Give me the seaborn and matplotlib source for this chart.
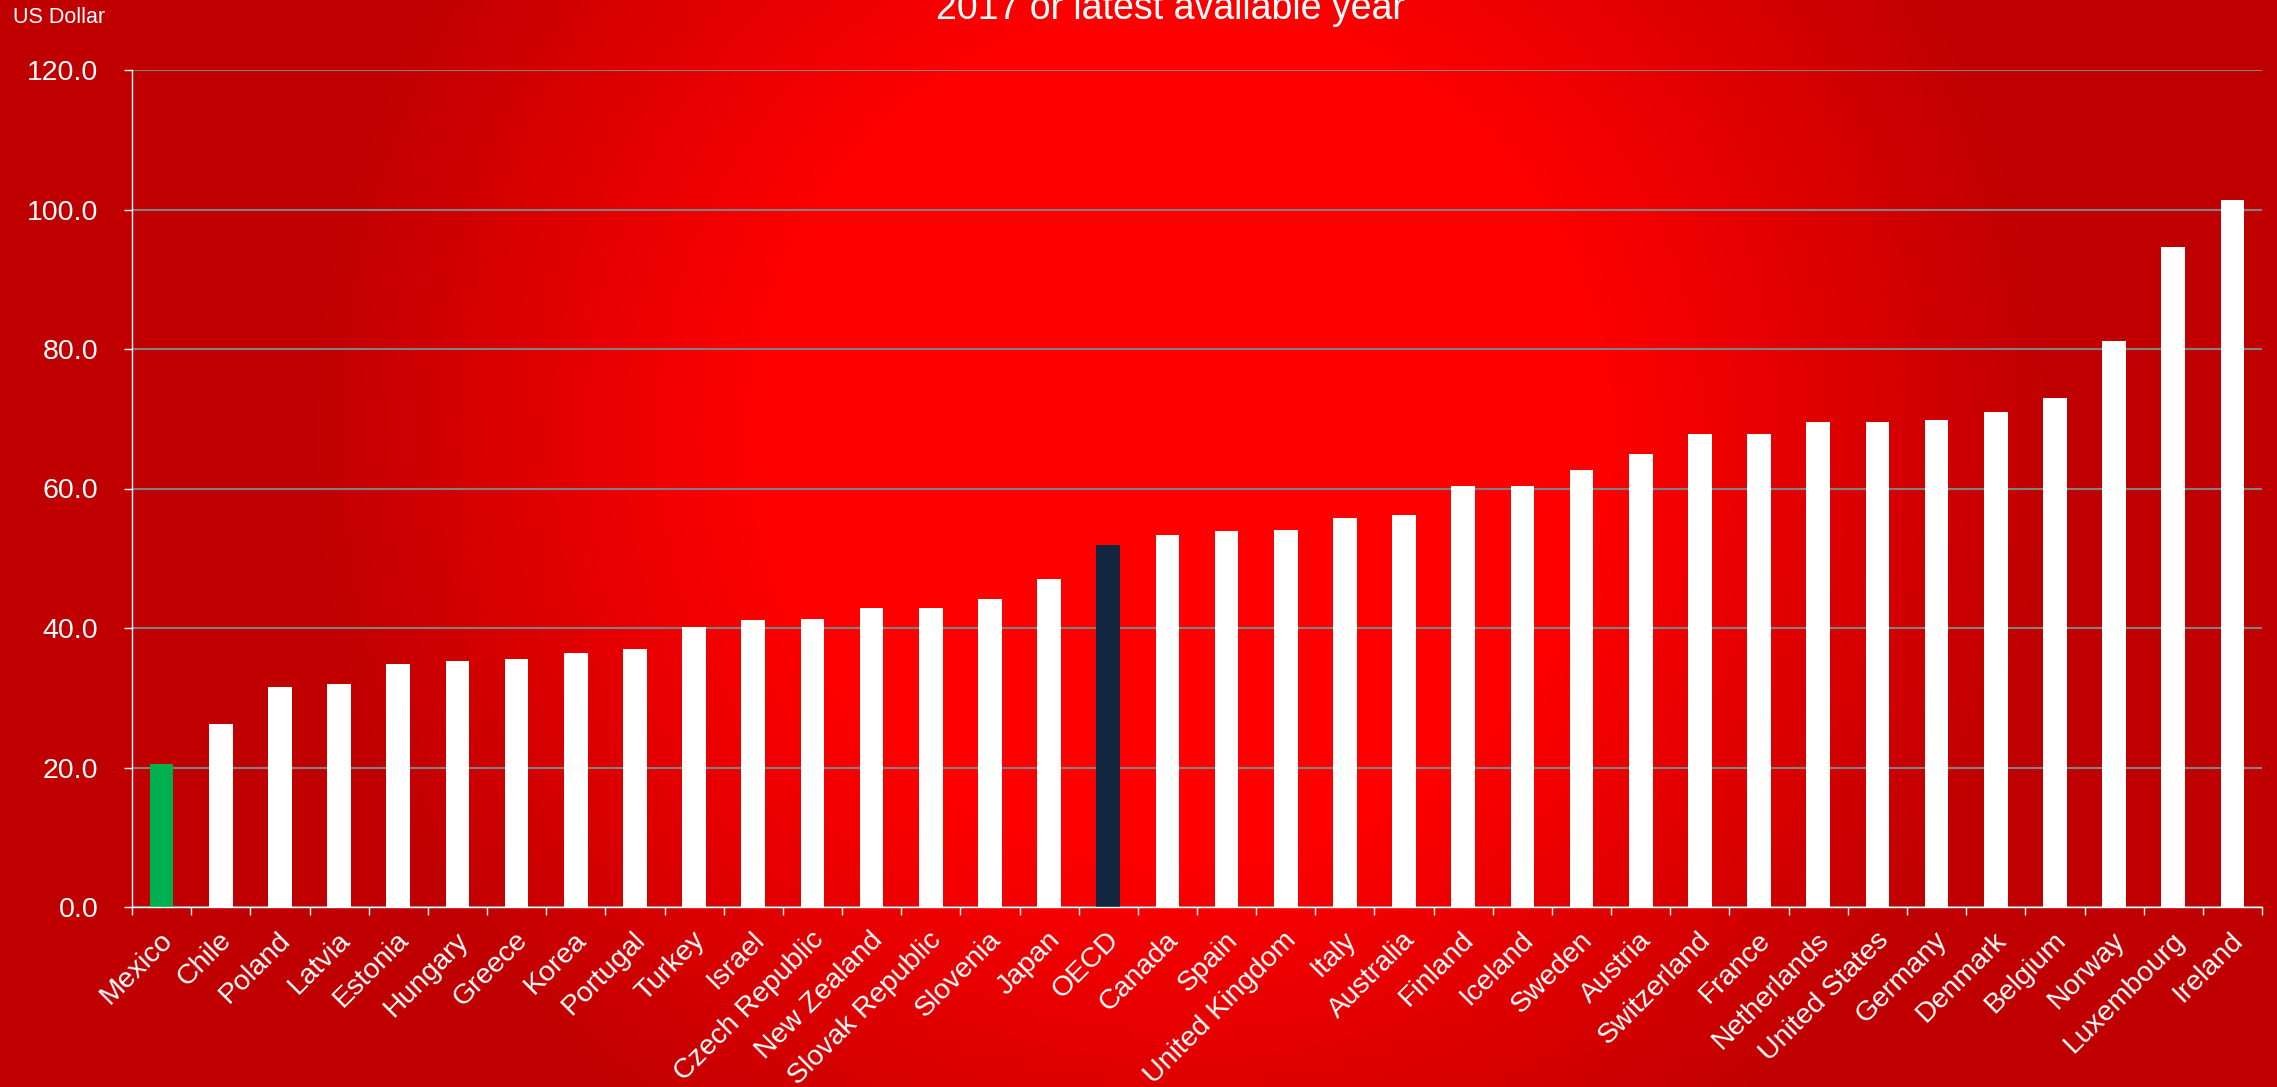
import numpy as np
import pandas as pd
import matplotlib
matplotlib.use("Agg")
import matplotlib.pyplot as plt
import matplotlib.transforms as mtransforms
import seaborn as sns

# Hourly labour cost, US dollars, 2017 or latest available year
countries = [
    "Mexico", "Chile", "Poland", "Latvia", "Estonia", "Hungary", "Greece",
    "Korea", "Portugal", "Turkey", "Israel", "Czech Republic", "New Zealand",
    "Slovak Republic", "Slovenia", "Japan", "OECD", "Canada", "Spain",
    "United Kingdom", "Italy", "Australia", "Finland", "Iceland", "Sweden",
    "Austria", "Switzerland", "France", "Netherlands", "United States",
    "Germany", "Denmark", "Belgium", "Norway", "Luxembourg", "Ireland",
]
values = [
    20.5, 26.2, 31.6, 32.0, 34.9, 35.3, 35.5,
    36.4, 37.0, 40.2, 41.1, 41.3, 42.9,
    42.9, 44.1, 47.0, 51.9, 53.3, 53.9,
    54.1, 55.7, 56.2, 60.3, 60.4, 62.6,
    65.0, 67.8, 67.8, 69.5, 69.6,
    69.8, 70.9, 73.0, 81.2, 94.6, 101.4,
]
highlight_colors = {"Mexico": "#00B050", "OECD": "#12263F"}
y_ticks = [0, 20, 40, 60, 80, 100, 120]

sns.set_theme(style="white")
plt.rcParams["font.family"] = ["Liberation Sans", "DejaVu Sans"]

W, H = 2277, 1087
fig = plt.figure(figsize=(W / 100, H / 100), dpi=100)

# red radial glow behind the chart
yy, xx = np.mgrid[0:H, 0:W]
r = np.sqrt(((xx - 1180) / 870.0) ** 2 + ((yy - 435) / 870.0) ** 2)
t = np.clip((r - 0.48) / 0.52, 0, 1)
red = (255 - 63 * t) / 255.0
img = np.dstack([red, np.zeros_like(red), np.zeros_like(red)])
bg = fig.add_axes([0, 0, 1, 1], zorder=0)
bg.imshow(img, aspect="auto", interpolation="bilinear")
bg.axis("off")

ax = fig.add_axes([132 / W, 1 - 907 / H, (2262 - 132) / W, (907 - 70) / H], zorder=1)
ax.patch.set_alpha(0)

df = pd.DataFrame({"country": countries, "value": values})
palette = {c: highlight_colors.get(c, "white") for c in countries}
sns.barplot(data=df, x="country", y="value", hue="country", palette=palette,
            width=0.4, saturation=1, legend=False, linewidth=0, ax=ax, zorder=3)

n = len(countries)
ax.set_xlim(-0.5, n - 0.5)
ax.set_ylim(0, 120)
ax.set_yticks(y_ticks)
ax.yaxis.set_major_formatter(lambda v, p: f"{v:.1f}")
ax.set_xlabel("")
ax.set_ylabel("")

ax.set_axisbelow(True)
ax.yaxis.grid(True, color="#808080", linewidth=1.5)
ax.xaxis.grid(False)

for side in ("top", "right"):
    ax.spines[side].set_visible(False)
for side in ("left", "bottom"):
    ax.spines[side].set_color("white")
    ax.spines[side].set_linewidth(1.0)
    ax.spines[side].set_zorder(4)

# tick marks between categories, labels under each bar
ax.set_xticks(np.arange(-0.5, n, 1), minor=True)
ax.tick_params(axis="x", which="minor", length=5.8, width=1, color="white",
               direction="out", bottom=True)
ax.tick_params(axis="x", which="major", length=0, pad=21, labelsize=20.5,
               labelcolor="white")
ax.set_xticks(range(n))
ax.set_xticklabels(countries, rotation=45, ha="right", va="center",
                   rotation_mode="anchor")
shift = mtransforms.ScaledTranslation(7 / 100, 0, fig.dpi_scale_trans)
for lbl in ax.get_xticklabels():
    lbl.set_transform(lbl.get_transform() + shift)

ax.tick_params(axis="y", length=5.8, width=1, color="white", direction="out",
               left=True, labelcolor="white", labelsize=20.5, pad=18.5)

fig.text(1170 / W, 1 - 19 / H, "2017 or latest available year", ha="center",
         va="baseline", fontsize=27, color="white")
fig.text(13 / W, 1 - 23 / H, "US Dollar", ha="left", va="baseline",
         fontsize=15.5, color="white")

fig.savefig("out.png", dpi=100)
